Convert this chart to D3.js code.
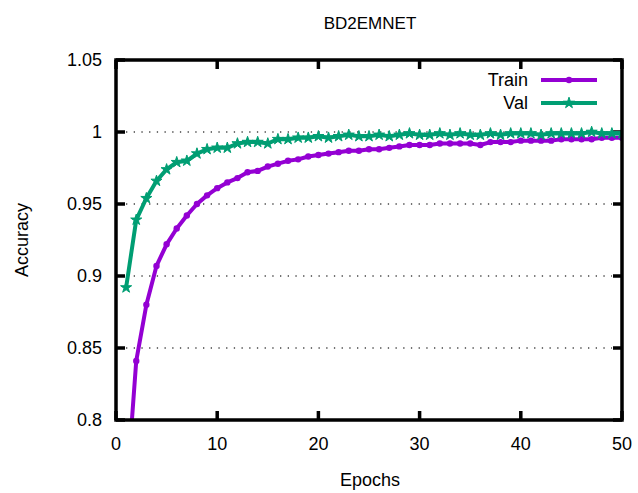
<!DOCTYPE html>
<html>
<head>
<meta charset="utf-8">
<script src="https://cdn.jsdelivr.net/npm/d3@7"></script>
<style>
    body { margin: 0; background: #fff; }
    text { font-family: "Liberation Sans", Arial, sans-serif; fill: #000; }
</style>
</head>
<body>
<svg id="chart" width="638" height="493"></svg>
<script>
// --- data ---
const epochs = d3.range(1, 51);
const trainAcc = [
    0.745, 0.841, 0.880, 0.907, 0.922, 0.933, 0.942, 0.950, 0.956, 0.961,
    0.965, 0.968, 0.972, 0.973, 0.976, 0.978, 0.980, 0.981, 0.983, 0.984,
    0.985, 0.986, 0.987, 0.987, 0.988, 0.988, 0.989, 0.990, 0.991, 0.991,
    0.991, 0.992, 0.992, 0.992, 0.992, 0.991, 0.993, 0.993, 0.993, 0.994,
    0.994, 0.994, 0.994, 0.995, 0.995, 0.995, 0.995, 0.996, 0.996, 0.996
];
const valAcc = [
    0.892, 0.939, 0.954, 0.966, 0.974, 0.979, 0.980, 0.985, 0.988, 0.989,
    0.989, 0.992, 0.993, 0.993, 0.992, 0.995, 0.995, 0.996, 0.996, 0.997,
    0.996, 0.997, 0.998, 0.997, 0.997, 0.998, 0.997, 0.998, 0.999, 0.998,
    0.998, 0.999, 0.998, 0.999, 0.998, 0.998, 0.999, 0.998, 0.999, 0.999,
    0.999, 0.998, 0.999, 0.999, 0.999, 0.999, 1.000, 0.999, 0.999, 0.999
];
const xTicks = [0, 10, 20, 30, 40, 50];
const yTicks = [0.8, 0.85, 0.9, 0.95, 1, 1.05];
const gridTicks = [0.85, 0.9, 0.95, 1];
const seriesNames = ['Train', 'Val'];
const seriesColors = ['#9400d3', '#009e73'];

// --- layout ---
const margin = { left: 116, right: 16, top: 60, bottom: 73 };
const W = 638, H = 493;
const svg = d3.select('#chart');

const x = d3.scaleLinear().domain([0, 50]).range([margin.left, W - margin.right]);
const y = d3.scaleLinear().domain([0.8, 1.05]).range([H - margin.bottom, margin.top]);

const fmt = d => String(+d.toFixed(2));

svg.append('clipPath').attr('id', 'clip')
    .append('rect')
    .attr('x', x(0)).attr('y', y(1.05))
    .attr('width', x(50) - x(0)).attr('height', y(0.8) - y(1.05));

// grid
svg.append('g').selectAll('line').data(gridTicks).join('line')
    .attr('x1', x(0) + 10).attr('x2', x(50) - 10)
    .attr('y1', d => y(d)).attr('y2', d => y(d))
    .attr('stroke', '#444').attr('stroke-width', 1.3)
    .attr('stroke-dasharray', '1.3,6.4');

// inward, mirrored ticks
const tickLen = 9;
let tickPath = '';
xTicks.forEach(t => {
    tickPath += `M${x(t)},${y(0.8)}v${-tickLen}M${x(t)},${y(1.05)}v${tickLen}`;
});
yTicks.forEach(t => {
    tickPath += `M${x(0)},${y(t)}h${tickLen}M${x(50)},${y(t)}h${-tickLen}`;
});
svg.append('path').attr('d', tickPath)
    .attr('fill', 'none').attr('stroke', '#000').attr('stroke-width', 3.5);

// tick labels
svg.append('g').selectAll('text').data(xTicks).join('text')
    .attr('x', d => x(d)).attr('y', y(0.8) + 30)
    .attr('text-anchor', 'middle').attr('font-size', 18)
    .text(d => d);
svg.append('g').selectAll('text').data(yTicks).join('text')
    .attr('x', x(0) - 14).attr('y', d => y(d) + 6)
    .attr('text-anchor', 'end').attr('font-size', 18)
    .text(fmt);

// series
const line = d3.line().x((d, i) => x(epochs[i])).y(d => y(d));
const allSeries = [trainAcc, valAcc];
const plot = svg.append('g').attr('clip-path', 'url(#clip)');
allSeries.forEach((vals, k) => {
    plot.append('path').datum(vals)
        .attr('d', line)
        .attr('fill', 'none')
        .attr('stroke', seriesColors[k])
        .attr('stroke-width', 4)
        .attr('stroke-linejoin', 'round');
});

function marker(sel, k) {
    if (k === 0) {
        sel.append('circle').attr('r', 3.2).attr('fill', seriesColors[k]);
    } else {
        sel.append('path').attr('d', d3.symbol(d3.symbolStar).size(38)())
            .attr('fill', seriesColors[k])
            .attr('stroke', seriesColors[k]).attr('stroke-width', 1);
    }
}
allSeries.forEach((vals, k) => {
    plot.append('g').selectAll('g').data(vals).join('g')
        .attr('transform', (d, i) => `translate(${x(epochs[i])},${y(d)})`)
        .each(function () { marker(d3.select(this), k); });
});

// frame
svg.append('rect')
    .attr('x', x(0)).attr('y', y(1.05))
    .attr('width', x(50) - x(0)).attr('height', y(0.8) - y(1.05))
    .attr('fill', 'none').attr('stroke', '#000').attr('stroke-width', 3.5);

// legend
const leg = svg.append('g');
seriesNames.forEach((name, k) => {
    const ly = 80 + k * 23;
    leg.append('text').attr('x', 528).attr('y', ly + 6)
        .attr('text-anchor', 'end').attr('font-size', 18).text(name);
    leg.append('line').attr('x1', 541).attr('x2', 597)
        .attr('y1', ly).attr('y2', ly)
        .attr('stroke', seriesColors[k]).attr('stroke-width', 4);
    marker(leg.append('g').attr('transform', `translate(569,${ly})`), k);
});

// titles
svg.append('text').attr('x', 370).attr('y', 29)
    .attr('text-anchor', 'middle').attr('font-size', 17).text('BD2EMNET');
svg.append('text').attr('x', 370).attr('y', 486)
    .attr('text-anchor', 'middle').attr('font-size', 18).text('Epochs');
svg.append('text')
    .attr('transform', `translate(28,${(y(0.8) + y(1.05)) / 2}) rotate(-90)`)
    .attr('text-anchor', 'middle').attr('font-size', 18).text('Accuracy');
</script>
</body>
</html>
